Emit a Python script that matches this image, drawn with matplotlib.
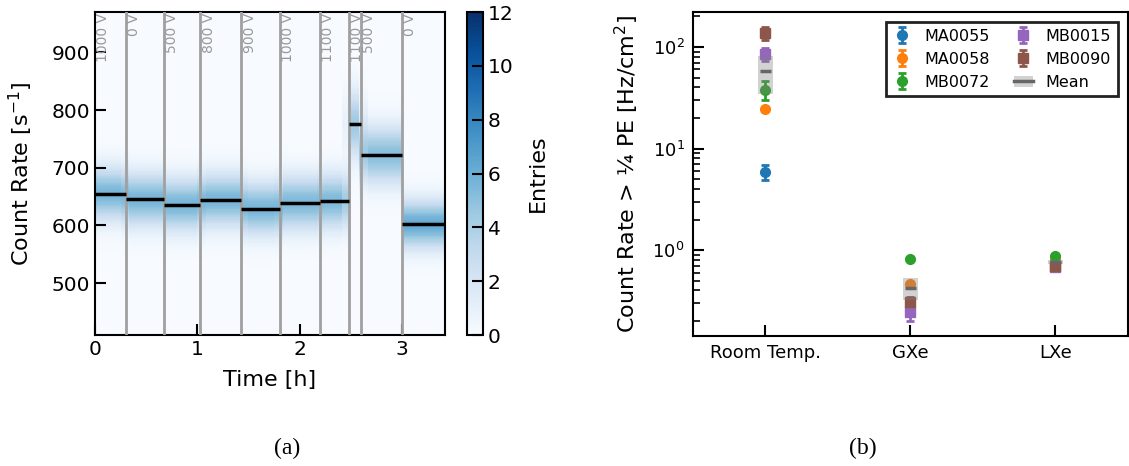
import numpy as np
import matplotlib
matplotlib.use('Agg')
from matplotlib import pyplot as plt
from matplotlib.patches import Patch
from matplotlib.lines import Line2D

# ---- (a) bias-voltage scan: segment edges [h], HV setting, mean rate and spread [1/s]
seg_edges = [0.0, 0.30, 0.67, 1.03, 1.43, 1.81, 2.20, 2.48, 2.60, 3.00, 3.42]
seg_volts = ['1000 V', '0 V', '500 V', '800 V', '900 V', '1000 V', '1100 V', '1100 V', '500 V', '0 V']
seg_mean = [655, 645, 636, 644, 629, 639, 642, 775, 722, 602]
seg_sigma = [32, 32, 32, 32, 32, 33, 33, 40, 35, 29]
entries_per_min = 45

# ---- (b) dark count rate above 1/4 PE [Hz/cm^2]
phases = ['Room Temp.', 'GXe', 'LXe']
sipms = ['MA0055', 'MA0058', 'MB0072', 'MB0015', 'MB0090']
rate_MA0055 = [5.9, 0.29, 0.78]
rate_MA0058 = [24.5, 0.46, 0.80]
rate_MB0072 = [38.0, 0.81, 0.87]
rate_MB0015 = [86.0, 0.247, 0.68]
rate_MB0090 = [137.0, 0.31, 0.70]
err_MA0055 = [0.95, 0.03, 0.03]
err_MA0058 = [1.2, 0.02, 0.03]
err_MB0072 = [8.0, 0.03, 0.03]
err_MB0015 = [12.5, 0.045, 0.05]
err_MB0090 = [21.0, 0.035, 0.04]
rates = [rate_MA0055, rate_MA0058, rate_MB0072, rate_MB0015, rate_MB0090]
errs = [err_MA0055, err_MA0058, err_MB0072, err_MB0015, err_MB0090]
markers = ['o', 'o', 'o', 's', 's']
colors = ['tab:blue', 'tab:orange', 'tab:green', 'tab:purple', 'tab:brown']

plt.rcParams['font.family'] = 'DejaVu Sans'

fig = plt.figure(figsize=(11.29, 4.66), dpi=100)

# ---------------- (a) ----------------
ax = fig.add_axes([0.0841, 0.2811, 0.310, 0.6931])
cax = fig.add_axes([0.4136, 0.2811, 0.0142, 0.6931])

t_edges = np.arange(0, seg_edges[-1] + 1 / 12, 1 / 12)
y_edges = np.arange(410, 972, 2)
y_mid = 0.5 * (y_edges[1:] + y_edges[:-1])
counts = np.zeros((len(t_edges) - 1, len(y_mid)))
t_min = (np.arange(int(seg_edges[-1] * 60)) + 0.5) / 60
for t in t_min:
    k = min(np.searchsorted(seg_edges, t) - 1, len(seg_mean) - 1)
    mu, sg = seg_mean[k], seg_sigma[k]
    dens = np.exp(-0.5 * ((y_mid - mu) / sg) ** 2) / (np.sqrt(2 * np.pi) * sg)
    counts[int(t * 12)] += entries_per_min * dens * 2

mesh = ax.pcolormesh(t_edges, y_edges, counts.T, cmap='Blues', vmin=0, vmax=12)

for i in range(len(seg_mean)):
    x0, x1 = seg_edges[i], seg_edges[i + 1]
    if i > 0:
        ax.axvline(x0, color='#a0a0a0', lw=2, zorder=3)
    ax.hlines(seg_mean[i], x0, x1, color='k', lw=2.5, zorder=4)
    ax.text(x0 + 0.012, 968, seg_volts[i], rotation=90, ha='left', va='top',
            color='#999999', fontsize=10, zorder=5)

ax.set_xlim(0, 3.42)
ax.set_ylim(410, 970)
ax.set_xticks([0, 1, 2, 3])
ax.set_yticks([500, 600, 700, 800, 900])
ax.tick_params(direction='in', length=8, width=1.5, labelsize=14.5)
for s in ax.spines.values():
    s.set_linewidth(1.5)
ax.set_xlabel('Time [h]', fontsize=16, labelpad=8)
ax.set_ylabel('Count Rate [s$^{-1}$]', fontsize=16, labelpad=12)

cb = fig.colorbar(mesh, cax=cax)
cb.set_ticks(range(0, 13, 2))
cax.tick_params(direction='in', length=8, width=1.5, labelsize=14.5)
cb.outline.set_linewidth(1.5)
cb.set_label('Entries', fontsize=16, labelpad=10)

# ---------------- (b) ----------------
bx = fig.add_axes([0.6138, 0.279, 0.3853, 0.6953])
xpos = np.arange(len(phases))
for name, r, e, m, c in zip(sipms, rates, errs, markers, colors):
    bx.errorbar(xpos, r, yerr=e, fmt=m, color=c, ms=7, elinewidth=2,
                capsize=3, capthick=2, label=name, zorder=3)

vals = np.array(rates)
mean = vals.mean(axis=0)
sem = vals.std(axis=0, ddof=1) / np.sqrt(vals.shape[0])
bx.bar(xpos, 2 * sem, bottom=mean - sem, width=0.1, color='grey', alpha=0.35,
       lw=0, zorder=4)
bx.hlines(mean, xpos - 0.04, xpos + 0.04, color='#666666', lw=2.5, zorder=5)

bx.set_yscale('log')
bx.set_xlim(-0.5, 2.5)
bx.set_ylim(0.1426, 221)
bx.set_xticks(xpos)
bx.set_xticklabels(phases)
bx.tick_params(which='major', direction='in', length=8, width=1.5, labelsize=13, pad=6)
bx.tick_params(which='minor', direction='in', length=5, width=1.2)
for s in bx.spines.values():
    s.set_linewidth(1.5)
bx.set_ylabel('Count Rate > \u00bc PE [Hz/cm$^2$]', fontsize=16, labelpad=8)

handles, labels = bx.get_legend_handles_labels()
mean_handle = (Patch(facecolor='grey', alpha=0.35, lw=0),
               Line2D([], [], color='#666666', lw=2.5))
handles.append(mean_handle)
labels.append('Mean')
leg = bx.legend(handles, labels, ncol=2, loc='upper right', fontsize=11.5,
                fancybox=False, edgecolor='#222222', framealpha=1,
                borderaxespad=0.65, handlelength=1.2, columnspacing=1.5)
leg.get_frame().set_linewidth(2)

fig.text(0.254, 0.025, '(a)', family='Liberation Serif', fontsize=17, ha='center')
fig.text(0.764, 0.025, '(b)', family='Liberation Serif', fontsize=17, ha='center')

fig.savefig('out.png', dpi=100)
